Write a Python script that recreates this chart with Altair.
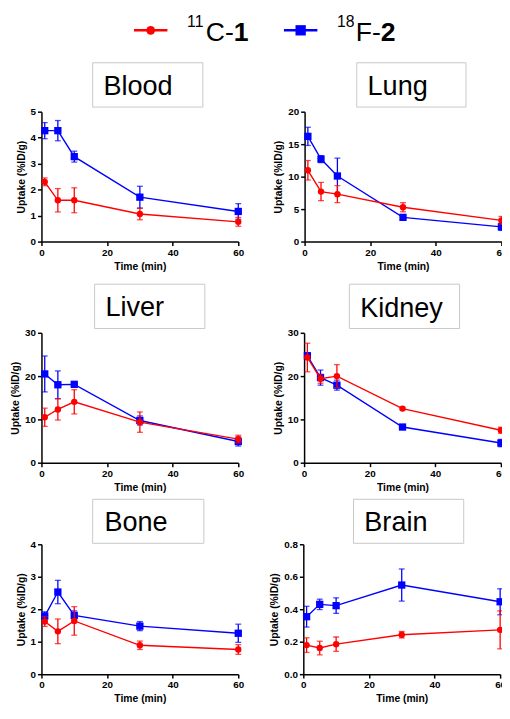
import altair as alt
import pandas as pd

FONT = "Liberation Sans"

times = [1, 5, 10, 30, 60]
tracers = ["11C-1", "18F-2"]
colors = ["#ff0000", "#0000ff"]

blood_c11 = [2.30, 1.59, 1.59, 1.06, 0.76]
blood_c11_sd = [0.15, 0.45, 0.48, 0.22, 0.17]
blood_f18 = [4.27, 4.27, 3.27, 1.71, 1.16]
blood_f18_sd = [0.31, 0.39, 0.21, 0.42, 0.30]

lung_c11 = [10.98, 7.7, 7.3, 5.29, 3.27]
lung_c11_sd = [1.5, 1.4, 1.3, 0.7, 0.6]
lung_f18 = [16.2, 12.7, 10.1, 3.73, 2.27]
lung_f18_sd = [1.4, 0.55, 2.75, 0.3, 0.55]

liver_c11 = [10.5, 12.3, 14.06, 9.37, 5.44]
liver_c11_sd = [2.1, 2.45, 2.8, 2.35, 0.9]
liver_f18 = [20.5, 18.0, 18.1, 9.75, 4.9]
liver_f18_sd = [4.15, 3.2, 0.4, 1.05, 1.05]

kidney_c11 = [24.3, 19.4, 20.0, 12.5, 7.5]
kidney_c11_sd = [3.3, 1.05, 2.65, 0.3, 0.7]
kidney_f18 = [24.7, 19.65, 17.9, 8.24, 4.54]
kidney_f18_sd = [0.6, 1.75, 1.15, 0.4, 0.85]

bone_c11 = [1.62, 1.32, 1.64, 0.89, 0.76]
bone_c11_sd = [0.15, 0.38, 0.44, 0.13, 0.15]
bone_f18 = [1.79, 2.53, 1.81, 1.48, 1.26]
bone_f18_sd = [0.13, 0.36, 0.14, 0.14, 0.28]

brain_c11 = [0.179, 0.161, 0.185, 0.243, 0.273]
brain_c11_sd = [0.045, 0.042, 0.044, 0.02, 0.117]
brain_f18 = [0.354, 0.430, 0.422, 0.549, 0.446]
brain_f18_sd = [0.064, 0.032, 0.048, 0.099, 0.08]

x_ticks = [0, 20, 40, 60]
blood_ticks = [0, 1, 2, 3, 4, 5]
lung_ticks = [0, 5, 10, 15, 20]
liver_ticks = [0, 10, 20, 30]
kidney_ticks = [0, 10, 20, 30]
bone_ticks = [0, 1, 2, 3, 4]
brain_ticks = [0, 0.2, 0.4, 0.6, 0.8]

# legend pieces: (superscript, body, bold part)
legend_c11 = ("11", "C-", "1")
legend_f18 = ("18", "F-", "2")


def legend_layers(parts, color, shape, size, dx):
    """Legend entry drawn in the panel's pixel frame; dx = left end of the line."""
    lg = alt.Chart(pd.DataFrame({"k": [0]}))
    sup, body, bold = parts
    body_x = dx + 73
    bold_x = body_x + (28.5 if body == "C-" else 25.5)
    return [
        lg.mark_rule(color=color, strokeWidth=2.5).encode(
            x=alt.value(dx), x2=alt.value(dx + 34), y=alt.value(-82.7)),
        lg.mark_point(shape=shape, filled=True, size=size, color=color, opacity=1).encode(
            x=alt.value(dx + 17), y=alt.value(-82.7)),
        lg.mark_text(text=sup, align="left", baseline="alphabetic", fontSize=16, font=FONT, color="black").encode(
            x=alt.value(dx + 54), y=alt.value(-86)),
        lg.mark_text(text=body, align="left", baseline="alphabetic", fontSize=27, font=FONT, color="black").encode(
            x=alt.value(body_x), y=alt.value(-72)),
        lg.mark_text(text=bold, align="left", baseline="alphabetic", fontSize=27, fontWeight="bold",
                     font=FONT, color="black").encode(x=alt.value(bold_x), y=alt.value(-72)),
    ]


def panel(name, c11, c11_sd, f18, f18_sd, ymax, yticks, yfmt, box, text_xy, extra=None):
    rows = []
    for tr, m, s in ((tracers[1], f18, f18_sd), (tracers[0], c11, c11_sd)):
        for t, v, e in zip(times, m, s):
            rows.append(dict(tracer=tr, time=t, mean=v, lo=v - e, hi=v + e))
    df = pd.DataFrame(rows)
    xs = alt.Scale(domain=[0, 60], nice=False, zero=False)
    ys = alt.Scale(domain=[0, ymax], nice=False)
    xax = alt.Axis(values=x_ticks, title="Time (min)", labelFlush=False)
    yax = alt.Axis(values=yticks, title="Uptake (%ID/g)", format=yfmt, labelFlush=False)
    X = alt.X("time:Q", scale=xs, axis=xax)
    layers = []
    for tr, col, shape, size in ((tracers[1], colors[1], "square", 55),
                                 (tracers[0], colors[0], "circle", 42)):
        base = alt.Chart(df).transform_filter(alt.datum.tracer == tr)
        rule = base.mark_rule(color=col, strokeWidth=1.3).encode(
            x=X, y=alt.Y("lo:Q", scale=ys, axis=yax), y2="hi:Q")
        cap_lo = base.mark_tick(color=col, orient="horizontal", size=6, thickness=1.3).encode(
            x=X, y=alt.Y("lo:Q", scale=ys, axis=yax))
        cap_hi = base.mark_tick(color=col, orient="horizontal", size=6, thickness=1.3).encode(
            x=X, y=alt.Y("hi:Q", scale=ys, axis=yax))
        line = base.mark_line(color=col, strokeWidth=1.4).encode(
            x=X, y=alt.Y("mean:Q", scale=ys, axis=yax))
        pts = base.mark_point(shape=shape, filled=True, size=size, color=col, opacity=1).encode(
            x=X, y=alt.Y("mean:Q", scale=ys, axis=yax))
        layers += [rule, cap_lo, cap_hi, line, pts]
    lab = alt.Chart(pd.DataFrame({"organ": [name]}))
    rect = lab.mark_rect(fill="white", stroke="#c8c8c8", strokeWidth=1).encode(
        x=alt.value(box[0]), x2=alt.value(box[1]), y=alt.value(box[2]), y2=alt.value(box[3]))
    txt = lab.mark_text(align="left", baseline="alphabetic", fontSize=27.5, font=FONT, color="black").encode(
        x=alt.value(text_xy[0]), y=alt.value(text_xy[1]), text="organ:N")
    layers += [rect, txt]
    if extra:
        layers += extra
    return alt.layer(*layers).properties(width=200, height=132)


p_blood = panel("Blood", blood_c11, blood_c11_sd, blood_f18, blood_f18_sd, 5, blood_ticks, "d",
                (52, 164, -49.7, -4.7), (63, -17),
                extra=legend_layers(legend_c11, colors[0], "circle", 80, 94))
p_lung = panel("Lung", lung_c11, lung_c11_sd, lung_f18, lung_f18_sd, 20, lung_ticks, "d",
               (53, 164, -49.7, -4.7), (64, -17),
               extra=legend_layers(legend_f18, colors[1], "square", 110, -21))
p_liver = panel("Liver", liver_c11, liver_c11_sd, liver_f18, liver_f18_sd, 30, liver_ticks, "d",
                (54, 166, -49.4, -4.4), (65, -17))
p_kidney = panel("Kidney", kidney_c11, kidney_c11_sd, kidney_f18, kidney_f18_sd, 30, kidney_ticks, "d",
                 (46, 158, -49.4, -4.4), (57, -16))
p_bone = panel("Bone", bone_c11, bone_c11_sd, bone_f18, bone_f18_sd, 4, bone_ticks, "d",
               (52, 165, -45.7, -1), (64, -13.7))
p_brain = panel("Brain", brain_c11, brain_c11_sd, brain_f18, brain_f18_sd, 0.8, brain_ticks, ".1f",
                (51, 163, -45.7, -1), (62, -13.7))

row1 = alt.hconcat(p_blood, p_lung, spacing=24.4)
row2 = alt.hconcat(p_liver, p_kidney, spacing=28.9)
row3 = alt.hconcat(p_bone, p_brain, spacing=26.1)

top = alt.vconcat(row1, row2, spacing=11.7)
chart = alt.vconcat(top, row3, spacing=4.6).properties(
    autosize=alt.AutoSizeParams(type="none"),
    padding={"left": 34, "top": 99.7, "right": 468, "bottom": 600.3},
    background="white",
).configure_view(stroke=None).configure_axis(
    grid=False,
    domainColor="black", domainWidth=1.5,
    tickColor="black", tickWidth=1.5, tickSize=4,
    labelFont=FONT, labelFontWeight="bold", labelFontSize=10, labelColor="black", labelPadding=2,
    titleFont=FONT, titleFontWeight="bold", titleFontSize=10.5, titleColor="black",
).configure_axisY(titlePadding=4).configure_axisX(titlePadding=4)

chart.save("out.html", embed_options={"renderer": "svg", "actions": False})
